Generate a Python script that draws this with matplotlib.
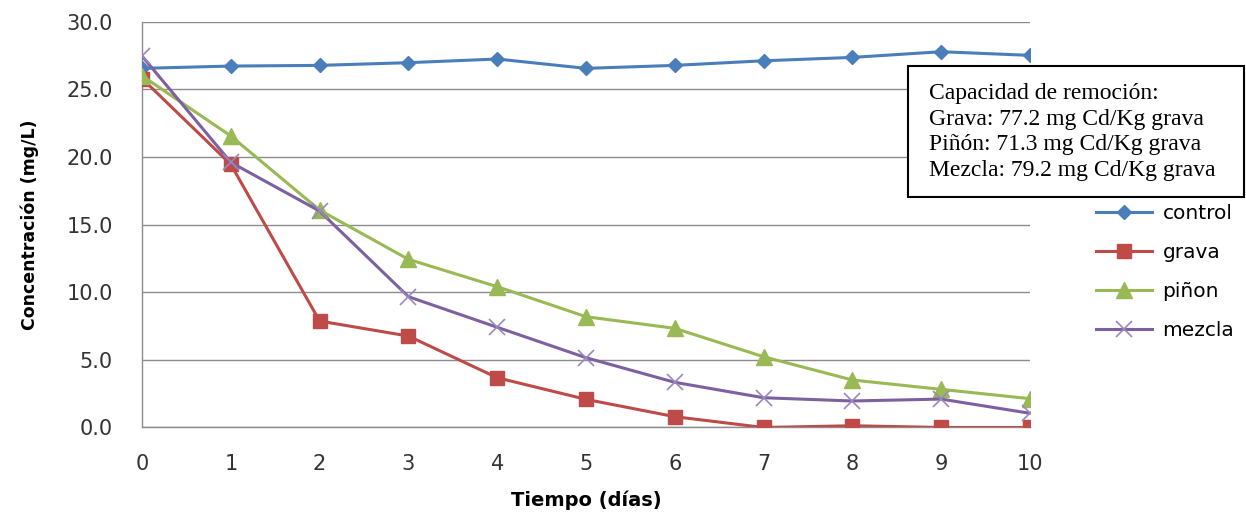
import matplotlib.pyplot as plt
from matplotlib.patches import Rectangle

# Datos: concentración de Cd (mg/L) frente al tiempo (días)
dias = [0, 1, 2, 3, 4, 5, 6, 7, 8, 9, 10]
control = [26.55, 26.72, 26.77, 26.97, 27.24, 26.55, 26.77, 27.11, 27.36, 27.78, 27.51]
grava = [25.8, 19.45, 7.87, 6.76, 3.68, 2.08, 0.8, 0.0, 0.13, 0.0, 0.0]
pinon = [26.0, 21.55, 16.07, 12.43, 10.41, 8.19, 7.33, 5.23, 3.51, 2.82, 2.13]
mezcla = [27.46, 19.6, 16.0, 9.67, 7.41, 5.16, 3.34, 2.2, 1.96, 2.1, 1.05]

y_ticks = [0, 5, 10, 15, 20, 25, 30]

texto_caja = ("Capacidad de remoción:\n"
              "Grava: 77.2 mg Cd/Kg grava\n"
              "Piñón: 71.3 mg Cd/Kg grava\n"
              "Mezcla: 79.2 mg Cd/Kg grava")

W, H = 1246, 514
fig = plt.figure(figsize=(W / 100, H / 100), dpi=100)
ax = fig.add_axes([0.114, 0.1683, 0.7126, 0.7895])

ax.plot(dias, control, color='#4a7ebb', lw=2.2, marker='D', ms=7, label='control', zorder=3)
ax.plot(dias, grava, color='#be4b48', lw=2.2, marker='s', ms=10, label='grava', zorder=3)
ax.plot(dias, pinon, color='#98b954', lw=2.2, marker='^', ms=11, label='piñon', zorder=3)
ax.plot(dias, mezcla, color='#7d60a0', lw=2.2, marker='x', ms=11, mew=1.2,
        mec='#9b86c0', label='mezcla', zorder=3)

ax.set_xlim(0, 10)
ax.set_ylim(0, 30)
ax.set_xticks(dias)
ax.set_yticks(y_ticks)
ax.set_yticklabels([f'{v:.1f}' for v in y_ticks])
ax.tick_params(length=0, labelsize=15, colors='#333333')
ax.tick_params(axis='y', pad=21)
ax.tick_params(axis='x', pad=19)

ax.grid(axis='y', color='#8c8c8c', lw=1)
ax.set_axisbelow(True)
for s in ['top', 'right']:
    ax.spines[s].set_visible(False)
for s in ['left', 'bottom']:
    ax.spines[s].set_color('#8c8c8c')
    ax.spines[s].set_linewidth(1)

ax.set_ylabel('Concentración (mg/L)', fontsize=12.5, fontweight='bold', labelpad=20)
ax.set_xlabel('Tiempo (días)', fontsize=14, fontweight='bold', labelpad=12)

fig.legend(loc='upper left', bbox_to_anchor=(1088 / W, 1 - 196 / H), frameon=False,
           fontsize=14.5, handlelength=2.8, handletextpad=0.5, labelspacing=1.0,
           borderaxespad=0)

# caja de texto con la capacidad de remoción
fig.patches.append(Rectangle((908 / W, 1 - 197 / H), 336 / W, 131 / H,
                             transform=fig.transFigure, facecolor='white',
                             edgecolor='black', lw=1.5, zorder=5))
fig.text(929 / W, 1 - 132 / H, texto_caja, fontsize=17, family='Liberation Serif',
         va='center', ha='left', linespacing=1.3, zorder=6)

fig.savefig('out.png', dpi=100)
